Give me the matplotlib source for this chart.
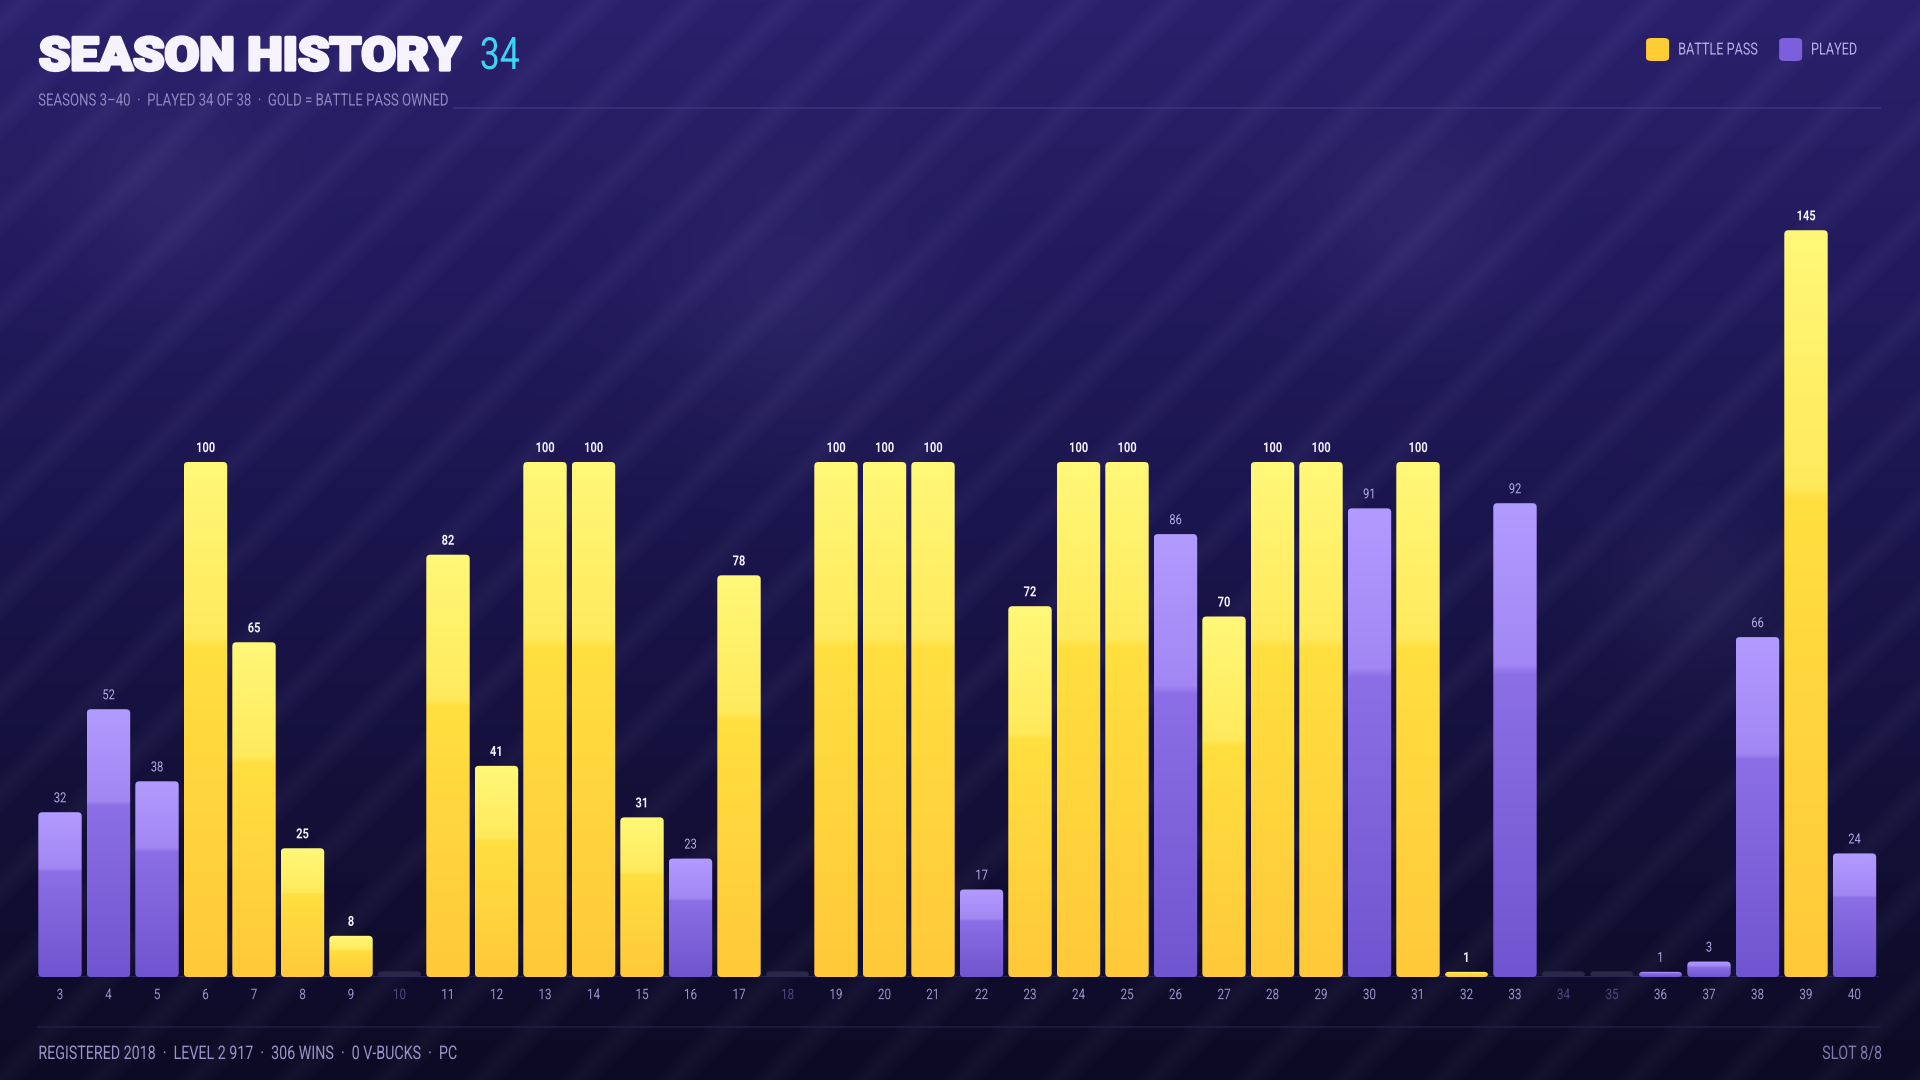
import numpy as np
import matplotlib
matplotlib.use("Agg")
import matplotlib.pyplot as plt
from matplotlib.patches import FancyBboxPatch
from matplotlib.patheffects import AbstractPathEffect
from matplotlib.transforms import IdentityTransform, Affine2D
from matplotlib.colors import to_rgb

# ---- data ----
seasons = list(range(3, 41))
levels = [32, 52, 38, 100, 65, 25, 8, 0, 82, 41, 100, 100, 31, 23, 78, 0,
          100, 100, 100, 17, 72, 100, 100, 86, 70, 100, 100, 91, 100, 1, 92,
          0, 0, 1, 3, 66, 145, 24]
battle_pass = [6, 7, 8, 9, 11, 12, 13, 14, 15, 17, 19, 20, 21, 23, 24, 25,
               27, 28, 29, 31, 32, 39]
not_played = [10, 18, 34, 35]

title = "SEASON HISTORY"
title_count = "34"
subtitle = "SEASONS 3\u201340  \u00b7  PLAYED 34 OF 38  \u00b7  GOLD = BATTLE PASS OWNED"
footer_left = "REGISTERED 2018  \u00b7  LEVEL 2 917  \u00b7  306 WINS  \u00b7  0 V-BUCKS  \u00b7  PC"
footer_right = "SLOT 8/8"
legend_items = [("BATTLE PASS", "#ffcc33"), ("PLAYED", "#7b5fdc")]

W, H = 1920, 1080
COND = ["Roboto", "DejaVu Sans"]
HEAVY = ["Roboto", "Lato", "DejaVu Sans"]


class Squeeze(AbstractPathEffect):
    """scale glyphs horizontally (fake condensed / wide face), optional fat stroke"""

    def __init__(self, sx=0.8, anchor="center", lw=0, fg=None):
        super().__init__()
        self.sx, self.anchor, self.lw, self.fg = sx, anchor, lw, fg

    def draw_path(self, renderer, gc, tpath, affine, rgbFace=None):
        ext = tpath.get_extents(affine)
        a = {"left": ext.x0, "center": (ext.x0 + ext.x1) / 2, "right": ext.x1}[self.anchor]
        aff = affine + Affine2D().translate(-a, 0).scale(self.sx, 1).translate(a, 0)
        if self.lw:
            gc0 = renderer.new_gc()
            gc0.copy_properties(gc)
            gc0.set_linewidth(self.lw)
            gc0.set_foreground(self.fg)
            gc0.set_joinstyle("round")
            renderer.draw_path(gc0, tpath, aff, rgbFace)
            gc0.restore()
        renderer.draw_path(gc, tpath, aff, rgbFace)


fig = plt.figure(figsize=(19.2, 10.8), dpi=100)
renderer = fig.canvas.get_renderer()


def fx(x):
    return x / W


def fy(y):
    return 1 - y / H


# ---- background: gradient + diagonal stripes + faint bokeh ----
bg = fig.add_axes([0, 0, 1, 1], zorder=-10)
yy, xx = np.mgrid[0:H, 0:W].astype(float)
top = np.array(to_rgb("#2b206c"))
mid = np.array(to_rgb("#1c1650"))
bot = np.array(to_rgb("#0d0a24"))
t = yy / H
img = np.where((t < 0.45)[..., None],
               top + (mid - top) * (t / 0.45)[..., None],
               mid + (bot - mid) * ((t - 0.45) / 0.55)[..., None])
phase = np.mod(xx + yy, 96.0)
stripe = np.clip(1 - np.abs(phase - 24) / 22, 0, 1) ** 0.7
img = img + stripe[..., None] * 0.03
for cx, cy, r in [(170, 200, 70), (790, 300, 90), (1410, 225, 70), (1700, 590, 60)]:
    g = np.exp(-((xx - cx) ** 2 + (yy - cy) ** 2) / (2 * r ** 2))
    img = img + g[..., None] * 0.035
bg.imshow(np.clip(img, 0, 1), aspect="auto", extent=[0, W, H, 0])
bg.set_xlim(0, W)
bg.set_ylim(H, 0)
bg.axis("off")

# ---- main bar axes ----
pitch = 48.5
left_px = 60 - pitch / 2
base_px = 977
unit = 5.15
ymax = 160
ax = fig.add_axes([fx(left_px), fy(base_px), len(seasons) * pitch / W, ymax * unit / H])
ax.set_facecolor("none")
ax.set_xlim(seasons[0] - 0.5, seasons[-1] + 0.5)
ax.set_ylim(0, ymax)
for s in ax.spines.values():
    s.set_visible(False)
ax.set_yticks([])

gold_stops = [(0.0, "#ffc93a"), (0.64, "#ffdf40"), (0.66, "#ffea5c"), (1.0, "#fff878")]
purple_stops = [(0.0, "#6f55cf"), (0.64, "#8c6fe6"), (0.66, "#a287f4"), (1.0, "#b29bff")]


def gradient(stops, n=256):
    pos = np.array([s[0] for s in stops])
    cols = np.array([to_rgb(s[1]) for s in stops])
    tt = np.linspace(0, 1, n)
    out = np.stack([np.interp(tt, pos, cols[:, k]) for k in range(3)], axis=-1)
    return out[::-1][:, None, :]


heights = [v if s not in not_played else 1.1 for s, v in zip(seasons, levels)]
bars = ax.bar(seasons, heights, width=0.895, color="none", edgecolor="none")
fig.canvas.draw()
for s, v, rect in zip(seasons, levels, bars):
    bb = rect.get_window_extent()
    clip = FancyBboxPatch((bb.x0, bb.y0), bb.width, bb.height,
                          boxstyle="round,pad=0,rounding_size=4",
                          transform=IdentityTransform(), facecolor="none",
                          edgecolor="none")
    ax.add_patch(clip)
    if s in not_played:
        clip.set_facecolor("#2b2748")
        continue
    stops = gold_stops if s in battle_pass else purple_stops
    x0, y0 = rect.get_x(), rect.get_y()
    im = ax.imshow(gradient(stops), aspect="auto", interpolation="bilinear",
                   extent=[x0, x0 + rect.get_width(), y0, y0 + rect.get_height()],
                   zorder=2)
    im.set_clip_path(clip)
    gold = s in battle_pass
    ax.annotate(str(v), (s, v), xytext=(0, 5), textcoords="offset points",
                ha="center", va="bottom", fontsize=10,
                color="#f4f1ff" if gold else "#b4abe6", family=COND,
                fontweight="bold" if gold else "normal",
                path_effects=[Squeeze(0.8)])
ax.set_xlim(seasons[0] - 0.5, seasons[-1] + 0.5)
ax.set_ylim(0, ymax)

ax.axhline(0, color="#2a2452", lw=1.5, zorder=1)
ax.set_xticks(seasons)
ax.set_xticklabels([str(s) for s in seasons], family=COND, fontsize=10.5)
ax.tick_params(axis="x", length=0, pad=8, colors="#9a93c8")
for s, lab in zip(seasons, ax.get_xticklabels()):
    lab.set_path_effects([Squeeze(0.8)])
    if s in not_played:
        lab.set_color("#4c4780")

# ---- header ----
TSX = 1.1
ttl = fig.text(fx(39), fy(57), title, family=HEAVY, fontweight="black",
               fontsize=33, color="#f6f3ff", va="center", ha="left",
               path_effects=[Squeeze(TSX, "left", lw=2.4, fg="#f6f3ff")])
tb = ttl.get_window_extent(renderer)
fig.text(fx(tb.x0 + tb.width * TSX + 18), fy(57), title_count, family=COND,
         fontsize=32, color="#3ad6f2", va="center", ha="left",
         path_effects=[Squeeze(0.8, "left")])
SUB_SX = 0.78
sub = fig.text(fx(38), fy(101), subtitle, family=COND, fontsize=12.2,
               color="#8f88c0", va="center", ha="left",
               path_effects=[Squeeze(SUB_SX, "left")])
sb = sub.get_window_extent(renderer)
fig.add_artist(plt.Line2D([fx(sb.x0 + sb.width * SUB_SX + 10), fx(1880)], [fy(108), fy(108)],
                          color="#3b3180", lw=1.2, transform=fig.transFigure))

# legend, built from the right edge
rx = 1857
LEG_SX = 0.76
for name, col in reversed(legend_items):
    txt = fig.text(fx(rx), fy(50), name, family=COND, fontsize=12,
                   color="#b8b0e8", va="center", ha="right",
                   path_effects=[Squeeze(LEG_SX, "right")])
    w = txt.get_window_extent(renderer).width * LEG_SX
    sq_left = rx - w - 9 - 23
    fig.add_artist(FancyBboxPatch((fx(sq_left), fy(61)), fx(23), 23 / H,
                                  boxstyle="round,pad=0,rounding_size=0.003",
                                  transform=fig.transFigure, facecolor=col,
                                  edgecolor="none"))
    rx = sq_left - 22

# ---- footer ----
fig.add_artist(plt.Line2D([fx(38), fx(1880)], [fy(1027), fy(1027)],
                          color="#211c42", lw=1.2, transform=fig.transFigure))
fig.text(fx(38), fy(1054), footer_left, family=COND, fontsize=13.5,
         color="#9a93c8", va="center", ha="left",
         path_effects=[Squeeze(0.76, "left")])
fig.text(fx(1882), fy(1054), footer_right, family=COND, fontsize=13.5,
         color="#7e78ac", va="center", ha="right",
         path_effects=[Squeeze(0.76, "right")])

fig.savefig("out.png", dpi=100)
